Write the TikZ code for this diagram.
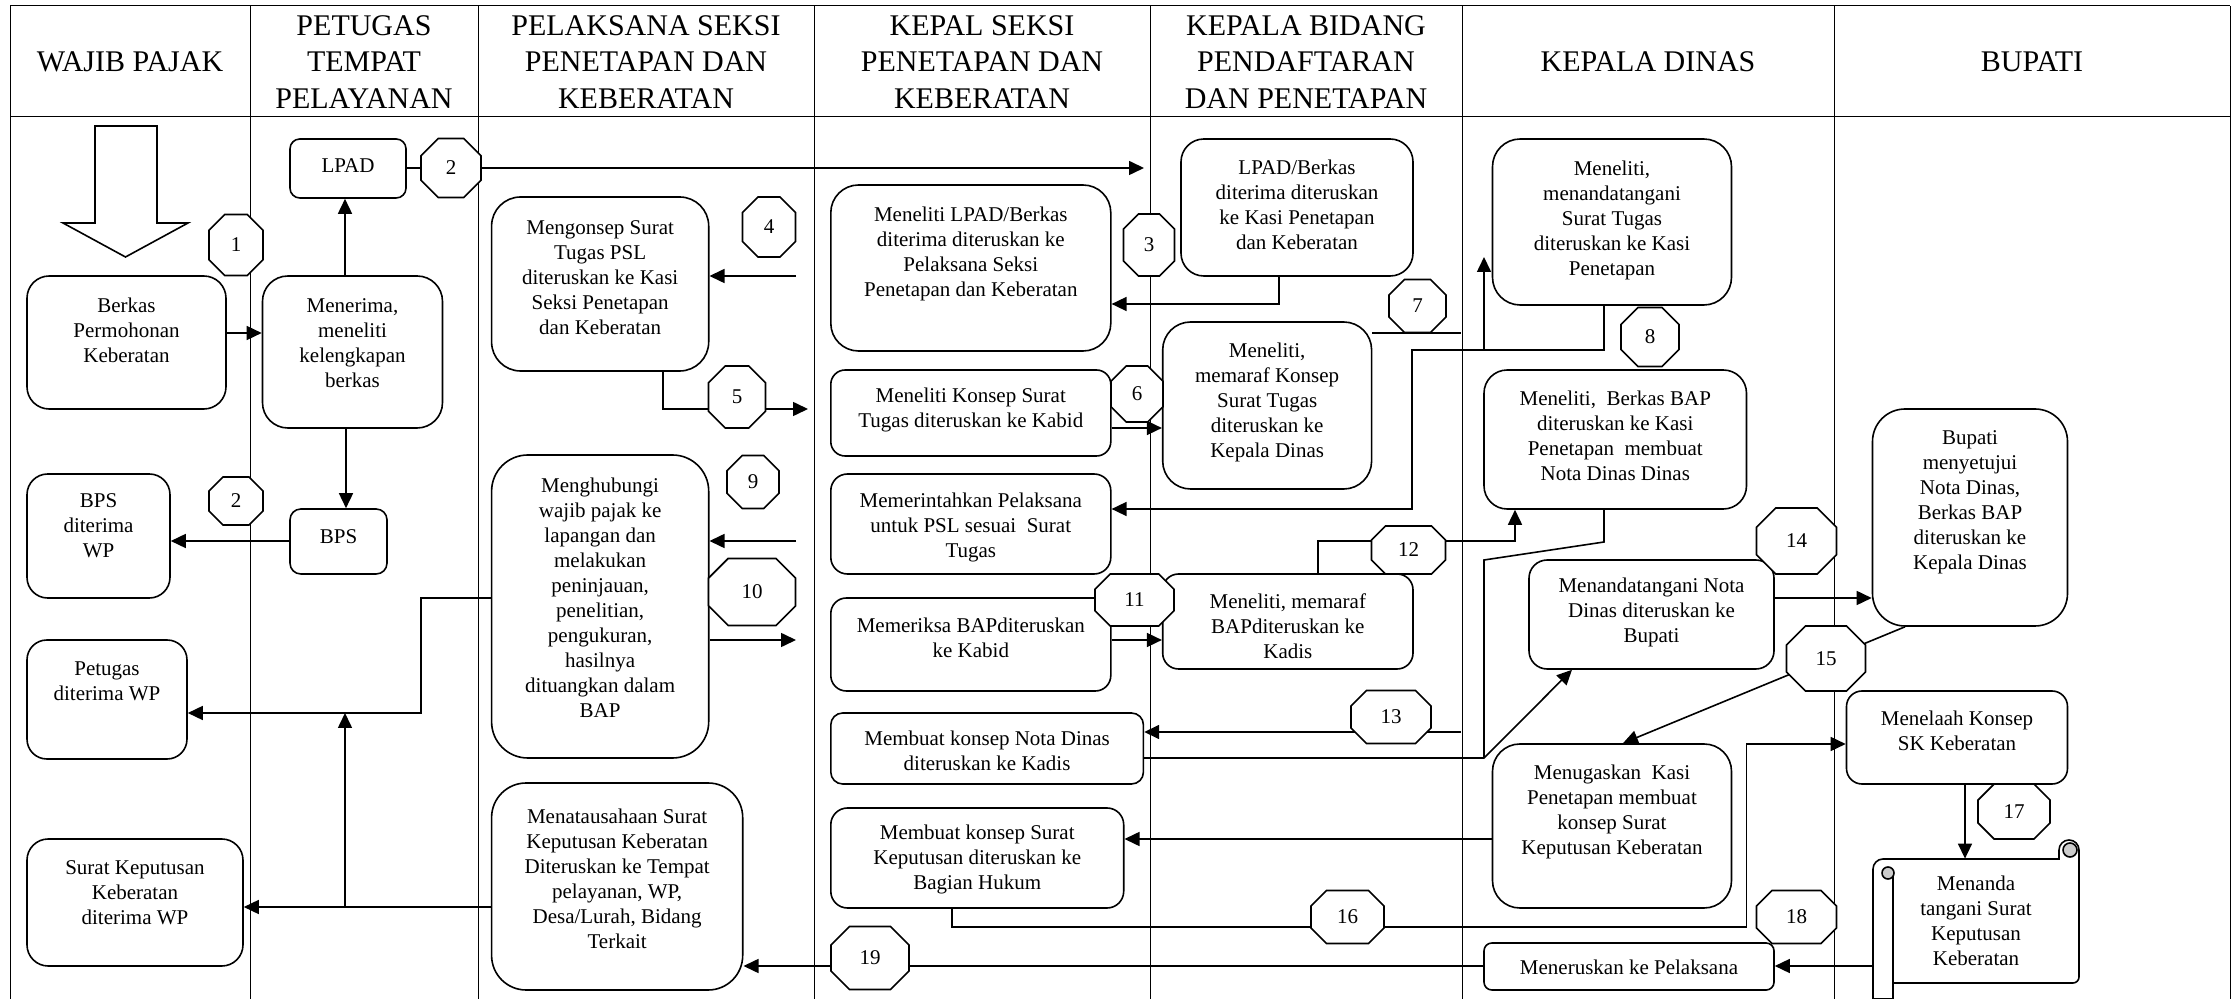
\documentclass[tikz,border=0pt]{standalone}
\usepackage{fontspec}
\setmainfont{Liberation Serif}
\usetikzlibrary{arrows.meta,calc}
\tikzset{
  frame/.style={line width=0.5pt},
  box/.style={draw,line width=0.8pt,fill=white,inner sep=0pt},
  btext/.style={font=\fontsize{10.5}{12.5}\selectfont,align=center,inner sep=0pt},
  htext/.style={font=\fontsize{15}{18.3}\selectfont,align=center,inner sep=0pt},
  ntext/.style={font=\fontsize{10.5}{12.5}\selectfont,inner sep=0pt,outer sep=0pt},
  octo/.style={draw,line width=0.8pt,fill=white},
  ln/.style={line width=0.8pt},
  arr/.style={line width=0.8pt,-{Triangle[length=7.5pt,width=7pt]}},
  scr/.style={draw,line width=0.8pt}
}
\newcommand\bx[8][]{%
 \pgfmathsetmacro\bxr{0.1667*min(#5-#3,#6-#4)*0.5}%
 \node[box,rounded corners=\bxr pt,minimum width={(#5-#3)*0.5pt},minimum height={(#6-#4)*0.5pt},#1] (#2) at ({(#3+#5)/2},{(#4+#6)/2}) {};%
 \node[btext] (#2-t) at ({(#3+#5)/2},#7) {#8};}
\newcommand\oc[6]{%
 \pgfmathsetmacro\occ{0.2929*min(#4,#5)}%
 \draw[octo] ({#2-#4/2},{#3-#5/2+\occ}) -- ({#2-#4/2},{#3+#5/2-\occ}) -- ({#2-#4/2+\occ},{#3+#5/2}) -- ({#2+#4/2-\occ},{#3+#5/2}) -- ({#2+#4/2},{#3+#5/2-\occ}) -- ({#2+#4/2},{#3-#5/2+\occ}) -- ({#2+#4/2-\occ},{#3-#5/2}) -- ({#2-#4/2+\occ},{#3-#5/2}) -- cycle;%
 \node[ntext,minimum width={#4*0.5pt},minimum height={#5*0.5pt}] (#1) at (#2,#3) {#6};}
\begin{document}
\begin{tikzpicture}[x=0.5pt,y=-0.5pt]
\useasboundingbox (0,0) rectangle (2234,999);
% frame
\draw[frame] (10,6) -- (2230,6);
\draw[frame] (10,117) -- (2230,117);
\foreach \xx in {10,250,478,814,1150,1462,1834,2230}{\draw[frame] (\xx,6) -- (\xx,999);}
% headers
\node[htext] (h1) at (130,62) {WAJIB PAJAK};
\node[htext] (h2) at (364,62) {PETUGAS\\TEMPAT\\PELAYANAN};
\node[htext] (h3) at (646,62) {PELAKSANA SEKSI\\PENETAPAN DAN\\KEBERATAN};
\node[htext] (h4) at (982,62) {KEPAL SEKSI\\PENETAPAN DAN\\KEBERATAN};
\node[htext] (h5) at (1306,62) {KEPALA BIDANG\\PENDAFTARAN\\DAN PENETAPAN};
\node[htext] (h6) at (1648,62) {KEPALA DINAS};
\node[htext] (h7) at (2032,62) {BUPATI};
% start block arrow
\draw[line width=0.8pt,fill=white] (95,126) -- (157,126) -- (157,223) -- (188,223) -- (125.5,257) -- (63,223) -- (95,223) -- cycle;
% boxes
\bx{berkas}{27}{276}{226}{409}{330}{Berkas\\Permohonan\\Keberatan}
\bx{menerima}{262.5}{276}{442.5}{428}{343}{Menerima,\\meneliti\\kelengkapan\\berkas}
\bx{lpad}{290}{139}{406}{198}{166}{LPAD}
\bx{bps}{290}{509}{387}{574}{537}{BPS}
\bx{bpsw}{27}{474}{170}{598}{526}{BPS\\diterima\\WP}
\bx{petugasw}{27}{640}{187}{759}{681}{Petugas\\diterima WP}
\bx{skw}{27}{839}{243}{966}{893}{Surat Keputusan\\Keberatan\\diterima WP}
\bx{mengonsep}{491.6}{197}{708.7}{371}{278}{Mengonsep Surat\\Tugas PSL\\diteruskan ke Kasi\\Seksi Penetapan\\dan Keberatan}
\bx{menghubungi}{491.6}{455}{708.7}{758}{598}{Menghubungi\\wajib pajak ke\\lapangan dan\\melakukan\\peninjauan,\\penelitian,\\pengukuran,\\hasilnya\\dituangkan dalam\\BAP}
\bx{menatau}{491.6}{783}{742.7}{990}{879}{Menatausahaan Surat\\Keputusan Keberatan\\Diteruskan ke Tempat\\pelayanan, WP,\\Desa/Lurah, Bidang\\Terkait}
\bx{meneliti}{830.8}{185}{1110.8}{351}{254}{Meneliti LPAD/Berkas\\diterima diteruskan ke\\Pelaksana Seksi\\Penetapan dan Keberatan}
\bx{konsep}{830.8}{370}{1110.8}{456}{410}{Meneliti Konsep Surat\\Tugas diteruskan ke Kabid}
\bx{perintah}{830.8}{474}{1110.8}{574}{527}{Memerintahkan Pelaksana\\untuk PSL sesuai\ \ Surat\\Tugas}
\bx{periksa}{830.8}{598}{1110.8}{691}{638}{Memeriksa BAPditeruskan\\ke Kabid}
\bx{nota}{830.8}{713}{1143.4}{784}{751}{Membuat konsep Nota Dinas\\diteruskan ke Kadis}
\bx{sk}{830.8}{808}{1123.7}{908}{859}{Membuat konsep Surat\\Keputusan diteruskan ke\\Bagian Hukum}
\bx{lpadb}{1181}{139}{1413}{276}{205}{LPAD/Berkas\\diterima diteruskan\\ke Kasi Penetapan\\dan Keberatan}
\bx{memarafa}{1162.7}{322}{1371.6}{489}{402}{Meneliti,\\memaraf Konsep\\Surat Tugas\\diteruskan ke\\Kepala Dinas}
\bx{memarafb}{1162.7}{574}{1413}{669}{626}{Meneliti, memaraf\\BAPditeruskan ke\\Kadis}
\bx{ttd}{1492.5}{139}{1731.5}{305}{220}{Meneliti,\\menandatangani\\Surat Tugas\\diteruskan ke Kasi\\Penetapan}
\bx{bap}{1484}{370}{1746.5}{509}{436}{Meneliti,\ \ Berkas BAP\\diteruskan ke Kasi\\Penetapan\ \ membuat\\Nota Dinas Dinas}
\bx{ttdnota}{1529}{560}{1774}{669}{612}{Menandatangani Nota\\Dinas diteruskan ke\\Bupati}
\bx{tugaskan}{1492.5}{744}{1731.5}{908}{812}{Menugaskan\ \ Kasi\\Penetapan membuat\\konsep Surat\\Keputusan Keberatan}
\bx{teruskan}{1484}{943}{1774}{990}{967}{Meneruskan ke Pelaksana}
\bx{bupati}{1872.5}{409}{2067.5}{626}{502}{Bupati\\menyetujui\\Nota Dinas,\\Berkas BAP\\diteruskan ke\\Kepala Dinas}
\bx{telaah}{1846.5}{691}{2067.5}{784}{731}{Menelaah Konsep\\SK Keberatan}
% scroll shape
\draw[scr,fill=white] (1873,999) -- (1873,869) arc[start angle=180,end angle=270,radius=10] -- (2059,859) -- (2059,850) arc[start angle=180,end angle=360,radius=10] -- (2079,977) arc[start angle=0,end angle=90,radius=6] -- (1893,983) -- (1893,999) -- cycle;
\draw[scr] (1893,872) -- (1893,999);
\draw[scr,fill=gray!40] (1888,873) circle[radius=6];
\draw[scr,fill=gray!40] (2070,850) circle[radius=7];
\node[btext,minimum width=103pt,minimum height=62pt] (scroll) at (1976,921) {Menanda\\tangani Surat\\Keputusan\\Keberatan};
% free connector ends
\coordinate (e2) at (1144,168);
\coordinate (s8) at (796,276);
\coordinate (e9) at (808,409);
\coordinate (s10) at (796,541);
\coordinate (e11) at (796,640);
\coordinate (j1) at (345,907);
\coordinate (j2) at (345,713);
\coordinate (k1) at (1461,333);
\coordinate (k2) at (1484,350);
\coordinate (k3) at (1484,257);
\coordinate (s13) at (1461,732);
% connectors
\draw[arr] (berkas.east |- 0,333) -- (menerima.west |- 0,333);
\draw[arr] (menerima.north -| 345,0) -- (lpad.south -| 345,0);
\draw[arr] (lpad.east |- 0,168) -- (e2);
\draw[arr] (menerima.south -| 346,0) -- (bps.north -| 346,0);
\draw[arr] (bps.west |- 0,541) -- (bpsw.east |- 0,541);
\draw[arr] (menghubungi.west |- 0,598) -- (421,598) -- (421,713) -- (petugasw.east |- 0,713);
\draw[arr] (menatau.west |- 0,907) -- (skw.east |- 0,907);
\draw[arr] (j1) -- (j2);
\draw[arr] (s8) -- (mengonsep.east |- s8);
\draw[arr] (mengonsep.south -| 662.7,0) -- (662.7,409) -- (e9);
\draw[arr] (s10) -- (menghubungi.east |- s10);
\draw[arr] (menghubungi.east |- 0,640) -- (e11);
\draw[arr] (lpadb.south -| 1279,0) -- (1279,304) -- (meneliti.east |- 0,304);
\draw[arr] (konsep.east |- 0,428) -- (memarafa.west |- 0,428);
\draw[ln] (memarafa.east |- 0,333) -- (k1);
\draw[arr] (k2) -- (k3);
\draw[arr] (ttd.south -| 1604,0) -- (1604,350) -- (1412,350) -- (1412,509) -- (perintah.east |- 0,509);
\draw[arr] (periksa.east |- 0,640) -- (memarafb.west |- 0,640);
\draw[arr] (memarafb.north -| 1318,0) -- (1318,541) -- (1515,541) -- (bap.south -| 1515,0);
\draw[arr] (s13) -- (nota.east |- s13);
\draw[ln] (bap.south -| 1604,0) -- (1604,542) -- (1484,560) -- (1484,758);
\draw[arr] (nota.east |- 0,758) -- (1484,758) -- (ttdnota.south -| 1572,0);
\draw[arr] (ttdnota.east |- 0,598) -- (bupati.west |- 0,598);
\draw[arr] (bupati.south -| 1905,0) -- (tugaskan.north -| 1623,0);
\draw[arr] (tugaskan.west |- 0,839) -- (sk.east |- 0,839);
\draw[arr] (sk.south -| 952,0) -- (952,927) -- (1746.5,927) -- (1746.5,744) -- (telaah.west |- 0,744);
\draw[arr] (telaah.south -| 1965,0) -- (scroll.north -| 1965,0);
\draw[arr] (scroll.west |- 0,966) -- (teruskan.east |- 0,966);
\draw[arr] (teruskan.west |- 0,966) -- (menatau.east |- 0,966);
% numbered octagons
\oc{o1}{236}{245}{54}{61}{1}
\oc{o2a}{451}{168}{60}{59}{2}
\oc{o2b}{236}{501}{54}{48}{2}
\oc{o3}{1149}{245}{51}{62}{3}
\oc{o4}{769}{227}{53}{60}{4}
\oc{o5}{737}{397}{57}{62}{5}
\oc{o6}{1137}{394}{52}{56}{6}
\oc{o7}{1417.5}{306}{57}{53}{7}
\oc{o8}{1650}{337}{58}{59}{8}
\oc{o9}{753}{482}{52}{53}{9}
\oc{o10}{752}{592}{87}{67}{10}
\oc{o11}{1134.5}{600}{79}{52}{11}
\oc{o12}{1408.5}{550}{74}{48}{12}
\oc{o13}{1391}{717}{80}{53}{13}
\oc{o14}{1796.5}{541}{80}{66}{14}
\oc{o15}{1826}{658.5}{79}{65}{15}
\oc{o16}{1347.5}{917}{73}{53}{16}
\oc{o17}{2014}{811.5}{72}{55}{17}
\oc{o18}{1796.5}{917}{80}{53}{18}
\oc{o19}{870}{958}{78}{63}{19}
\end{tikzpicture}
\end{document}
